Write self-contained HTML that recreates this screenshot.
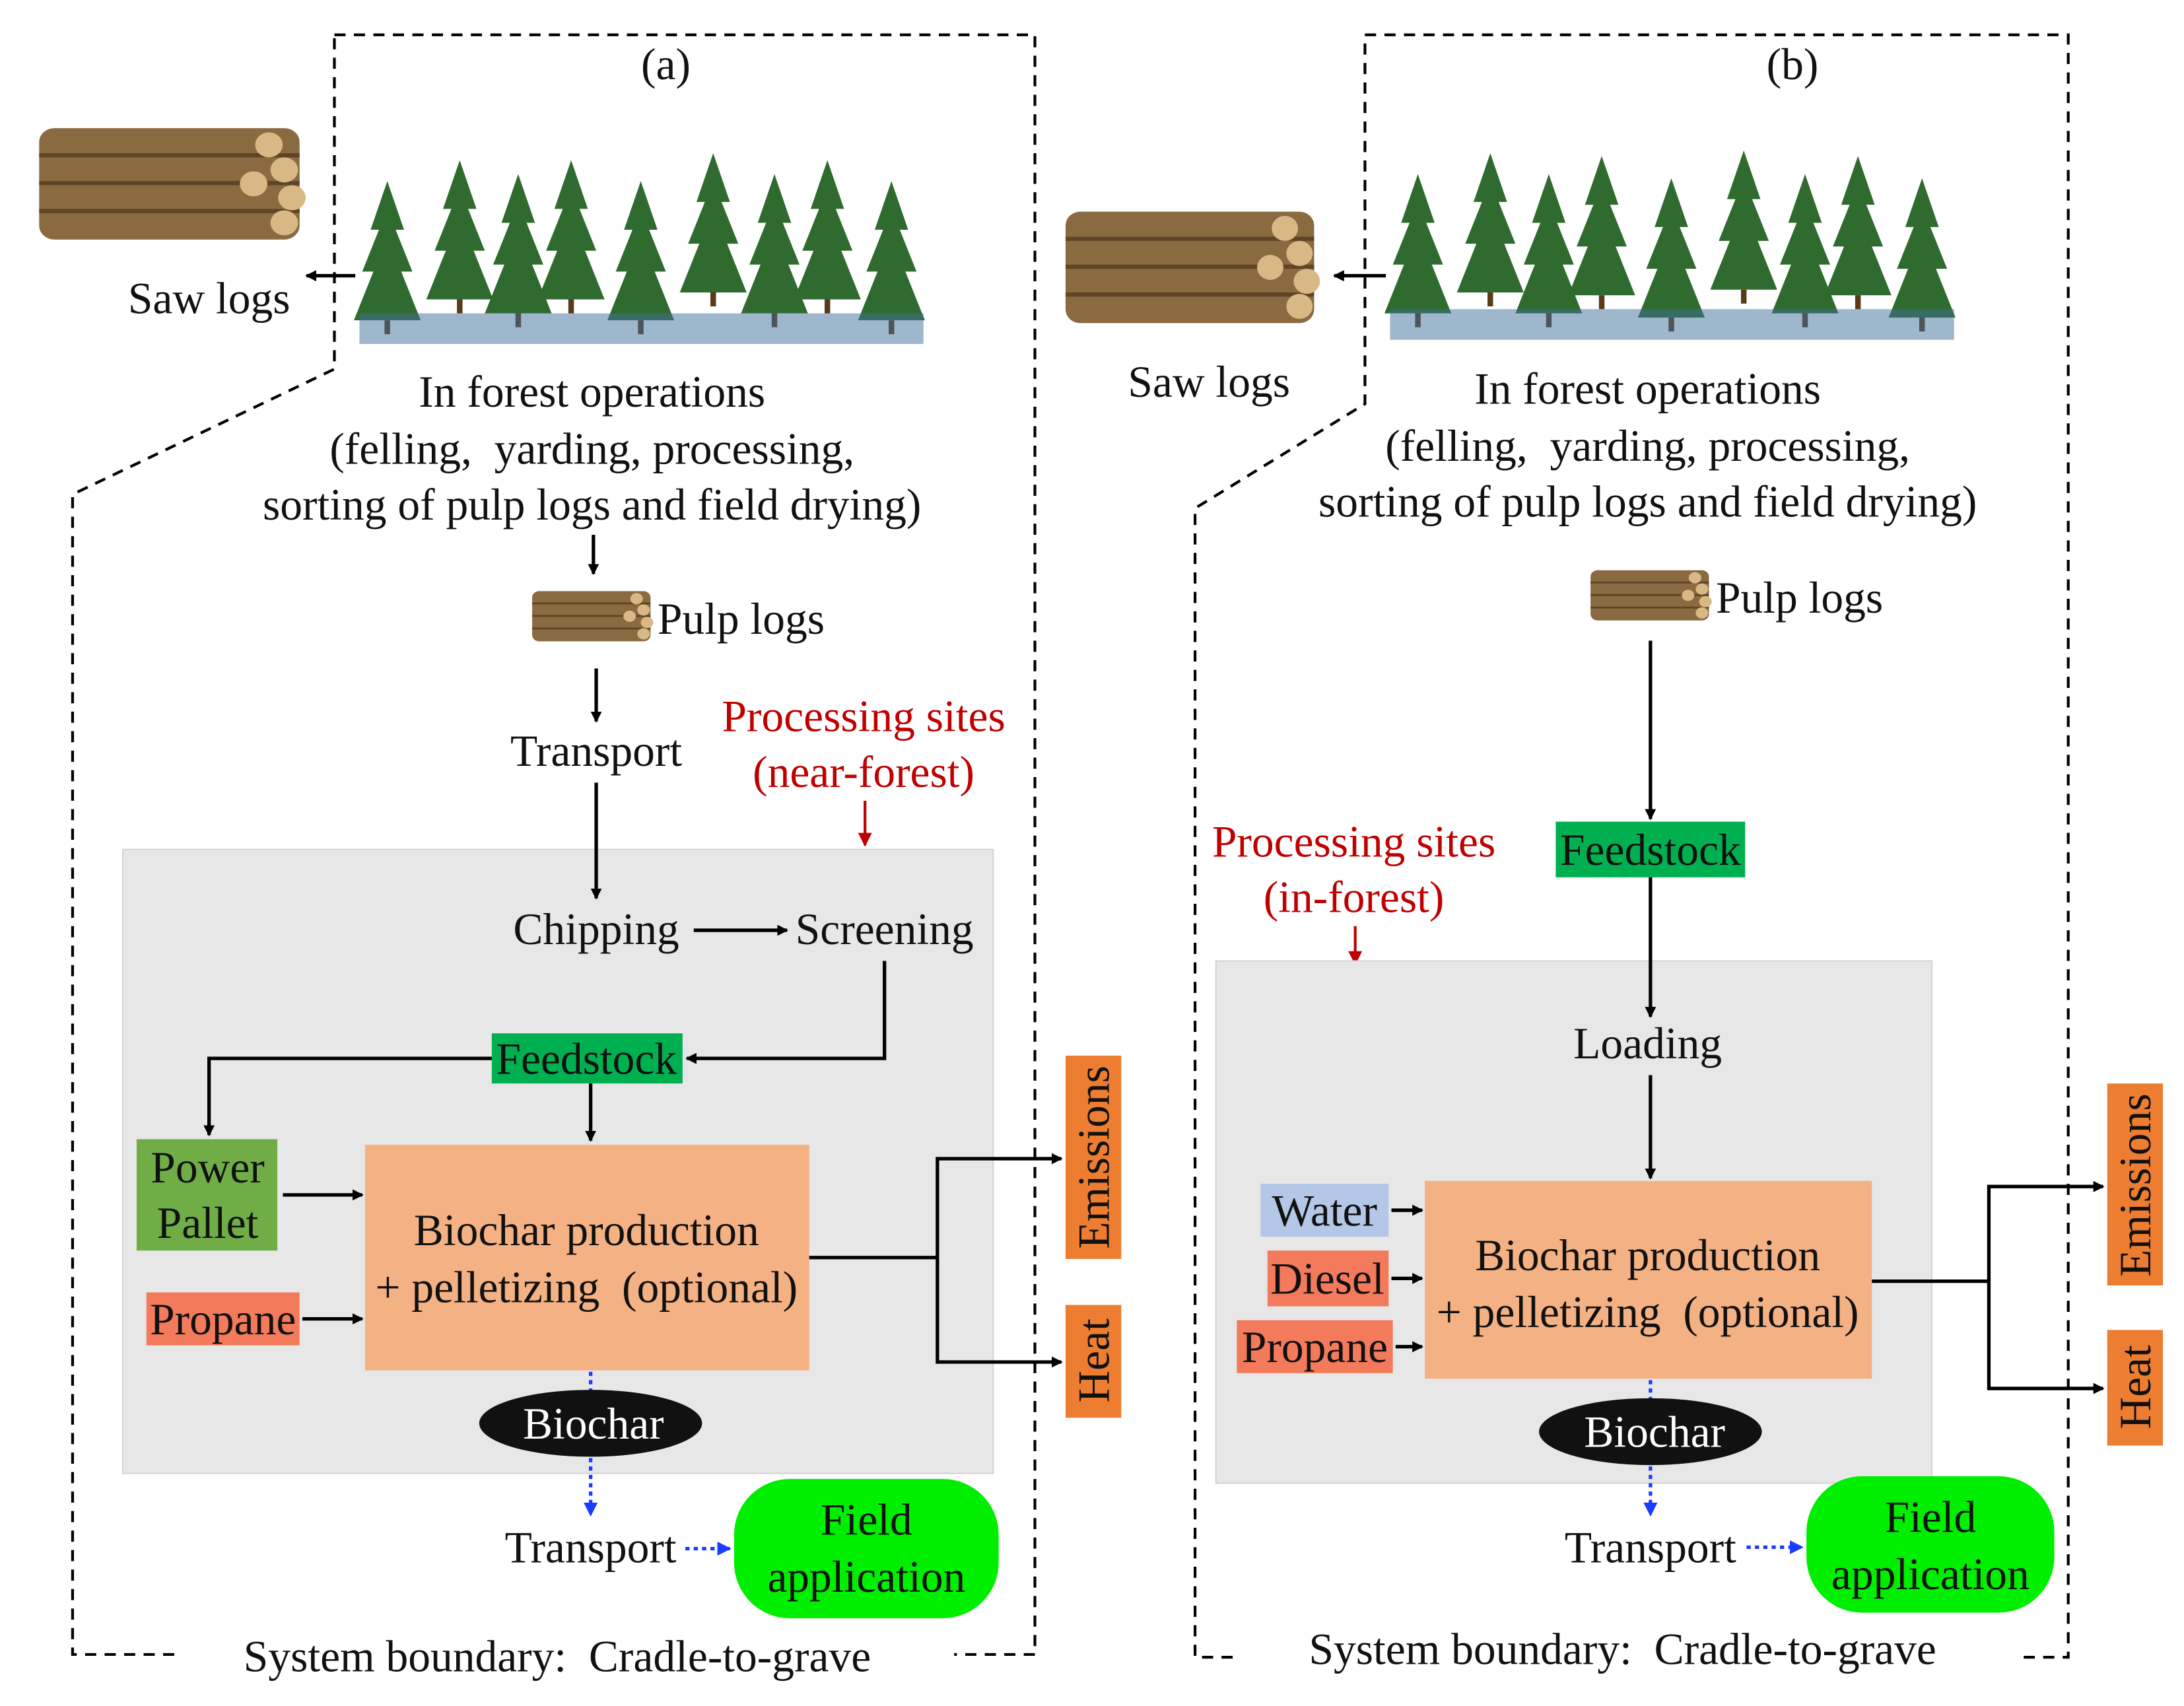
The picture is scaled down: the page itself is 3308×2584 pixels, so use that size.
<!DOCTYPE html>
<html><head><meta charset="utf-8"><style>
html,body{margin:0;padding:0;background:#fff}
svg{display:block}
text{font-family:"Liberation Serif",serif;font-size:32px;fill:#111}
</style></head><body>
<svg width="3308" height="2584" viewBox="0 0 1568 1225" xmlns="http://www.w3.org/2000/svg">
<defs>
<marker id="ah" markerWidth="8" markerHeight="8" refX="7" refY="4" orient="auto" markerUnits="userSpaceOnUse"><path d="M0,0 L8,4 L0,8 z" fill="#000"/></marker>
<marker id="ab" markerWidth="10" markerHeight="10" refX="9" refY="5" orient="auto" markerUnits="userSpaceOnUse"><path d="M0,0 L10,5 L0,10 z" fill="#1a3cff"/></marker>
<marker id="ar" markerWidth="10" markerHeight="10" refX="9" refY="5" orient="auto" markerUnits="userSpaceOnUse"><path d="M0,0 L10,5 L0,10 z" fill="#c00000"/></marker>
<g id="tree">
<path d="M0,-80 L-12,-45 L-6,-45 L-18,-15 L-10,-15 L-24,20 L24,20 L10,-15 L18,-15 L6,-45 L12,-45 z" fill="#2f6b2f"/>
<rect x="-2" y="20" width="4" height="10" fill="#5a3a1a"/>
</g>
<g id="logs">
<rect x="0" y="10" width="170" height="80" rx="10" fill="#8a6a40"/>
<g fill="#5e4527"><rect x="0" y="28" width="170" height="3"/><rect x="0" y="48" width="170" height="3"/><rect x="0" y="68" width="170" height="3"/></g>
<g fill="#d8b884"><circle cx="150" cy="22" r="9"/><circle cx="160" cy="40" r="9"/><circle cx="165" cy="60" r="9"/><circle cx="160" cy="78" r="9"/><circle cx="140" cy="50" r="9"/></g>
</g>
</defs>

<!-- ========== PANEL A ========== -->
<path d="M240,25 L743,25 L743,1188 L685,1188 M125,1188 L52,1188 L52,355 L240,265 L240,25" fill="none" stroke="#000" stroke-width="2" stroke-dasharray="8,6"/>
<text x="478" y="57" text-anchor="middle">(a)</text>
<g>
<use href="#tree" x="278" y="210"/><use href="#tree" x="330" y="195"/><use href="#tree" x="372" y="205"/><use href="#tree" x="410" y="195"/><use href="#tree" x="460" y="210"/><use href="#tree" x="512" y="190"/><use href="#tree" x="556" y="205"/><use href="#tree" x="594" y="195"/><use href="#tree" x="640" y="210"/>
<rect x="258" y="225" width="405" height="22" fill="#3f6f9a" opacity="0.5"/>
</g>
<use href="#logs" transform="translate(28,82) scale(1.1,1)"/>
<line x1="255" y1="198" x2="220" y2="198" stroke="#000" stroke-width="2.5" marker-end="url(#ah)"/>
<text x="150" y="225" text-anchor="middle">Saw logs</text>
<text x="425" y="292" text-anchor="middle">In forest operations</text>
<text x="425" y="333" text-anchor="middle" xml:space="preserve">(felling,  yarding, processing,</text>
<text x="425" y="373" text-anchor="middle">sorting of pulp logs and field drying)</text>
<line x1="426" y1="384" x2="426" y2="412" stroke="#000" stroke-width="2.5" marker-end="url(#ah)"/>
<use href="#logs" transform="translate(382,420) scale(0.5,0.45)"/>
<text x="472" y="455">Pulp logs</text>
<line x1="428" y1="480" x2="428" y2="518" stroke="#000" stroke-width="2.5" marker-end="url(#ah)"/>
<text x="428" y="550" text-anchor="middle">Transport</text>
<text x="620" y="525" text-anchor="middle" style="fill:#c00000">Processing sites</text>
<text x="620" y="565" text-anchor="middle" style="fill:#c00000">(near-forest)</text>
<line x1="621" y1="575" x2="621" y2="607" stroke="#c00000" stroke-width="2" marker-end="url(#ar)"/>
<rect x="88" y="610" width="625" height="448" fill="#e7e7e7" stroke="#d4d4d4"/>
<line x1="428" y1="562" x2="428" y2="645" stroke="#000" stroke-width="2.5" marker-end="url(#ah)"/>
<text x="428" y="678" text-anchor="middle">Chipping</text>
<line x1="498" y1="668" x2="565" y2="668" stroke="#000" stroke-width="2.5" marker-end="url(#ah)"/>
<text x="635" y="678" text-anchor="middle">Screening</text>
<polyline points="635,690 635,760 493,760" fill="none" stroke="#000" stroke-width="2.5" marker-end="url(#ah)"/>
<rect x="353" y="742" width="137" height="36" fill="#00b050"/>
<text x="421" y="771" text-anchor="middle">Feedstock</text>
<polyline points="353,760 150,760 150,815" fill="none" stroke="#000" stroke-width="2.5" marker-end="url(#ah)"/>
<line x1="424" y1="778" x2="424" y2="819" stroke="#000" stroke-width="2.5" marker-end="url(#ah)"/>
<rect x="98" y="818" width="101" height="80" fill="#70ad47"/>
<text x="149" y="849" text-anchor="middle">Power</text>
<text x="149" y="889" text-anchor="middle">Pallet</text>
<line x1="203" y1="858" x2="260" y2="858" stroke="#000" stroke-width="2.5" marker-end="url(#ah)"/>
<rect x="105" y="928" width="110" height="38" fill="#f37a5a"/>
<text x="160" y="958" text-anchor="middle">Propane</text>
<line x1="217" y1="947" x2="260" y2="947" stroke="#000" stroke-width="2.5" marker-end="url(#ah)"/>
<rect x="262" y="822" width="319" height="162" fill="#f4b183"/>
<text x="421" y="894" text-anchor="middle">Biochar production</text>
<text x="421" y="935" text-anchor="middle" xml:space="preserve">+ pelletizing  (optional)</text>
<polyline points="581,903 673,903" fill="none" stroke="#000" stroke-width="2.5"/>
<polyline points="673,903 673,832 762,832" fill="none" stroke="#000" stroke-width="2.5" marker-end="url(#ah)"/>
<polyline points="673,903 673,978 762,978" fill="none" stroke="#000" stroke-width="2.5" marker-end="url(#ah)"/>
<rect x="765" y="758" width="40" height="146" fill="#ed7d31"/>
<text transform="translate(796,831) rotate(-90)" text-anchor="middle">Emissions</text>
<rect x="765" y="937" width="40" height="81" fill="#ed7d31"/>
<text transform="translate(796,977) rotate(-90)" text-anchor="middle">Heat</text>
<line x1="424" y1="985" x2="424" y2="1000" stroke="#1a3cff" stroke-width="2.5" stroke-dasharray="3,3"/>
<ellipse cx="424" cy="1022" rx="80" ry="24" fill="#111"/>
<text x="426" y="1033" text-anchor="middle" style="fill:#fff">Biochar</text>
<line x1="424" y1="1047" x2="424" y2="1088" stroke="#1a3cff" stroke-width="2.5" stroke-dasharray="3,3" marker-end="url(#ab)"/>
<text x="424" y="1122" text-anchor="middle">Transport</text>
<line x1="492" y1="1112" x2="524" y2="1112" stroke="#1a3cff" stroke-width="2.5" stroke-dasharray="3,3" marker-end="url(#ab)"/>
<rect x="527" y="1062" width="190" height="100" rx="40" fill="#00ee00"/>
<text x="622" y="1102" text-anchor="middle">Field</text>
<text x="622" y="1143" text-anchor="middle">application</text>
<text x="400" y="1200" text-anchor="middle" xml:space="preserve">System boundary:  Cradle-to-grave</text>

<!-- ========== PANEL B ========== -->
<path d="M980,25 L1485,25 L1485,1190 L1448,1190 M885,1190 L858,1190 L858,365 L980,290 L980,25" fill="none" stroke="#000" stroke-width="2" stroke-dasharray="8,6"/>
<text x="1287" y="57" text-anchor="middle">(b)</text>
<g>
<use href="#tree" x="1018" y="205"/><use href="#tree" x="1070" y="190"/><use href="#tree" x="1112" y="205"/><use href="#tree" x="1150" y="192"/><use href="#tree" x="1200" y="208"/><use href="#tree" x="1252" y="188"/><use href="#tree" x="1296" y="205"/><use href="#tree" x="1334" y="192"/><use href="#tree" x="1380" y="208"/>
<rect x="998" y="222" width="405" height="22" fill="#3f6f9a" opacity="0.5"/>
</g>
<use href="#logs" transform="translate(765,142) scale(1.05,1)"/>
<line x1="995" y1="198" x2="958" y2="198" stroke="#000" stroke-width="2.5" marker-end="url(#ah)"/>
<text x="868" y="285" text-anchor="middle">Saw logs</text>
<text x="1183" y="290" text-anchor="middle">In forest operations</text>
<text x="1183" y="331" text-anchor="middle" xml:space="preserve">(felling,  yarding, processing,</text>
<text x="1183" y="371" text-anchor="middle">sorting of pulp logs and field drying)</text>
<use href="#logs" transform="translate(1142,405) scale(0.5,0.45)"/>
<text x="1232" y="440">Pulp logs</text>
<line x1="1185" y1="460" x2="1185" y2="588" stroke="#000" stroke-width="2.5" marker-end="url(#ah)"/>
<rect x="1117" y="590" width="136" height="40" fill="#00b050"/>
<text x="1185" y="621" text-anchor="middle">Feedstock</text>
<text x="972" y="615" text-anchor="middle" style="fill:#c00000">Processing sites</text>
<text x="972" y="655" text-anchor="middle" style="fill:#c00000">(in-forest)</text>
<line x1="973" y1="665" x2="973" y2="692" stroke="#c00000" stroke-width="2" marker-end="url(#ar)"/>
<rect x="873" y="690" width="514" height="375" fill="#e7e7e7" stroke="#d4d4d4"/>
<line x1="1185" y1="630" x2="1185" y2="730" stroke="#000" stroke-width="2.5" marker-end="url(#ah)"/>
<text x="1183" y="760" text-anchor="middle">Loading</text>
<line x1="1185" y1="772" x2="1185" y2="846" stroke="#000" stroke-width="2.5" marker-end="url(#ah)"/>
<rect x="905" y="850" width="92" height="38" fill="#b4c7e7"/>
<text x="951" y="880" text-anchor="middle">Water</text>
<line x1="999" y1="869" x2="1021" y2="869" stroke="#000" stroke-width="2.5" marker-end="url(#ah)"/>
<rect x="910" y="898" width="87" height="40" fill="#f37a5a"/>
<text x="953" y="929" text-anchor="middle">Diesel</text>
<line x1="999" y1="918" x2="1021" y2="918" stroke="#000" stroke-width="2.5" marker-end="url(#ah)"/>
<rect x="888" y="948" width="112" height="38" fill="#f37a5a"/>
<text x="944" y="978" text-anchor="middle">Propane</text>
<line x1="1002" y1="967" x2="1021" y2="967" stroke="#000" stroke-width="2.5" marker-end="url(#ah)"/>
<rect x="1023" y="848" width="321" height="142" fill="#f4b183"/>
<text x="1183" y="912" text-anchor="middle">Biochar production</text>
<text x="1183" y="953" text-anchor="middle" xml:space="preserve">+ pelletizing  (optional)</text>
<polyline points="1344,920 1428,920" fill="none" stroke="#000" stroke-width="2.5"/>
<polyline points="1428,920 1428,852 1510,852" fill="none" stroke="#000" stroke-width="2.5" marker-end="url(#ah)"/>
<polyline points="1428,920 1428,997 1510,997" fill="none" stroke="#000" stroke-width="2.5" marker-end="url(#ah)"/>
<rect x="1513" y="778" width="40" height="145" fill="#ed7d31"/>
<text transform="translate(1544,851) rotate(-90)" text-anchor="middle">Emissions</text>
<rect x="1513" y="955" width="40" height="83" fill="#ed7d31"/>
<text transform="translate(1544,996) rotate(-90)" text-anchor="middle">Heat</text>
<line x1="1185" y1="991" x2="1185" y2="1005" stroke="#1a3cff" stroke-width="2.5" stroke-dasharray="3,3"/>
<ellipse cx="1185" cy="1028" rx="80" ry="24" fill="#111"/>
<text x="1188" y="1039" text-anchor="middle" style="fill:#fff">Biochar</text>
<line x1="1185" y1="1053" x2="1185" y2="1088" stroke="#1a3cff" stroke-width="2.5" stroke-dasharray="3,3" marker-end="url(#ab)"/>
<text x="1185" y="1122" text-anchor="middle">Transport</text>
<line x1="1254" y1="1111" x2="1294" y2="1111" stroke="#1a3cff" stroke-width="2.5" stroke-dasharray="3,3" marker-end="url(#ab)"/>
<rect x="1297" y="1060" width="178" height="98" rx="40" fill="#00ee00"/>
<text x="1386" y="1100" text-anchor="middle">Field</text>
<text x="1386" y="1141" text-anchor="middle">application</text>
<text x="1165" y="1195" text-anchor="middle" xml:space="preserve">System boundary:  Cradle-to-grave</text>
</svg>
</body></html>
